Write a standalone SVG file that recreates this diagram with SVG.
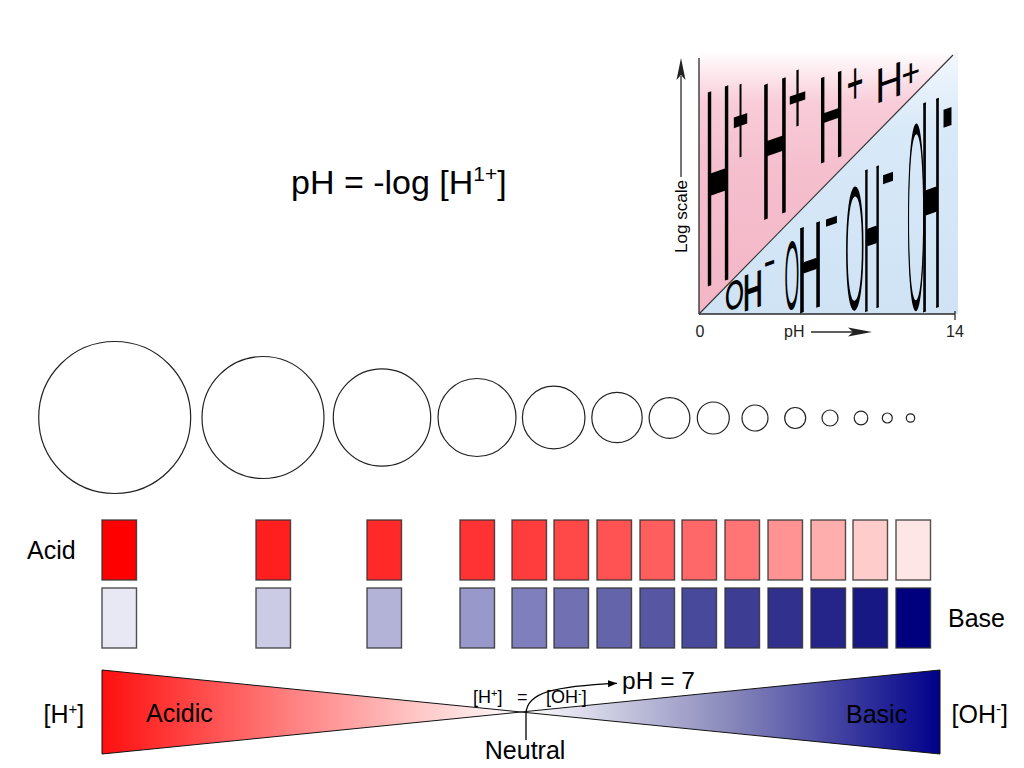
<svg xmlns="http://www.w3.org/2000/svg" width="1024" height="768" viewBox="0 0 1024 768">
<defs>
<style>
text{font-family:"Liberation Sans",Arial,"Helvetica",sans-serif;fill:#000}
.lbl{font-size:25px}
.c{fill:#fff;stroke:#222;stroke-width:1.2}
.sw{stroke:#333;stroke-width:1.4;stroke-opacity:.85}
.g{font-size:100px}
.gb{font-size:100px;stroke:#000;stroke-width:1.2;vector-effect:non-scaling-stroke}
.go{font-family:Lato,Roboto,sans-serif;font-weight:100;font-size:100px;stroke:#000;stroke-width:6;vector-effect:non-scaling-stroke}
.gm{font-size:100px;stroke:#000;stroke-width:4;vector-effect:non-scaling-stroke}
.ax{stroke:#2a2a2a;stroke-width:1.3;fill:none}
.fl{font-size:16px;fill:#222}
.tri{stroke:#111;stroke-width:1}
</style>
<linearGradient id="gRed" gradientUnits="userSpaceOnUse" x1="102" y1="0" x2="521" y2="0">
<stop offset="0" stop-color="#ff0f0f"/>
<stop offset="0.45" stop-color="#ff8080"/>
<stop offset="1" stop-color="#ffffff"/>
</linearGradient>
<linearGradient id="gBlue" gradientUnits="userSpaceOnUse" x1="521" y1="0" x2="940" y2="0">
<stop offset="0" stop-color="#ffffff"/>
<stop offset="0.5" stop-color="#8888bb"/>
<stop offset="1" stop-color="#00008a"/>
</linearGradient>
<linearGradient id="gPink" x1="0" y1="0" x2="0" y2="1">
<stop offset="0" stop-color="#ffffff"/>
<stop offset="0.2" stop-color="#f8ccd8"/>
<stop offset="0.45" stop-color="#f5bfce"/>
<stop offset="1" stop-color="#f3b6c7"/>
</linearGradient>
<linearGradient id="gSky" x1="0" y1="0" x2="0" y2="1">
<stop offset="0" stop-color="#f2f7fd"/>
<stop offset="0.3" stop-color="#d8e9f8"/>
<stop offset="1" stop-color="#cfe3f5"/>
</linearGradient>
<marker id="ah" viewBox="0 0 10 10" refX="10" refY="5" markerWidth="9" markerHeight="9" markerUnits="userSpaceOnUse" orient="auto">
<path d="M0,1 L10,5 L0,9 z" fill="#000"/>
</marker>
</defs>
<rect width="1024" height="768" fill="#fff"/>

<g id="formula">
<text x="291" y="194" font-size="34">pH = -log [H<tspan font-size="21" dy="-13">1+</tspan><tspan dy="13">]</tspan></text>
</g>

<g id="ph-figure">
<polygon points="699,50 958,50 699,314" fill="url(#gPink)"/>
<polygon points="699,314 956,52 958,52 958,314" fill="url(#gSky)"/>
<line class="ax" x1="699" y1="58" x2="699" y2="314"/>
<line class="ax" x1="699" y1="314" x2="955" y2="314"/>
<line class="ax" x1="955" y1="311" x2="955" y2="320"/>
<line x1="699" y1="314" x2="953" y2="55" stroke="#333" stroke-width="1.1"/>
<g id="h-ions">
<text class="g" transform="matrix(0.3665,-0.1283,0,2.821,704.8,287.6)">H</text>
<text class="g" transform="matrix(0.2754,-0.0964,0,1.4925,732.5,173.1)">+</text>
<text class="g" transform="matrix(0.3861,-0.1351,0,1.962,760.9,220.9)">H</text>
<text class="g" transform="matrix(0.3178,-0.1112,0,1.1514,788.2,139.6)">+</text>
<text class="g" transform="matrix(0.3648,-0.1277,0,1.243,818.0,164.6)">H</text>
<text class="g" transform="matrix(0.286,-0.1001,0,0.6183,846.7,107.1)">+</text>
<text class="g" transform="matrix(0.3861,-0.1351,0,0.4888,875.3,103.9)">H</text>
<text class="g" transform="matrix(0.3178,-0.1112,0,0.4051,901.5,90.0)">+</text>
</g>
<g id="oh-ions">
<text class="go" style="stroke-width:3" transform="matrix(0.228,-0.08,0,0.355,725.4,310.5)">O</text>
<text class="gb" transform="matrix(0.2726,-0.0954,0,0.5028,743.0,311.4)">H</text>
<text class="g" transform="matrix(0.3673,-0.1286,0,0.4943,763.4,278.5)">-</text>
<text class="go" style="stroke-width:4.5" transform="matrix(0.1821,-0.0637,0,0.877,784.7,308.7)">O</text>
<text class="gb" transform="matrix(0.3472,-0.1215,0,1.215,797.5,313.4)">H</text>
<text class="g" transform="matrix(0.449,-0.1571,0,0.9195,824.0,248.2)">-</text>
<text class="go" transform="matrix(0.249,-0.0872,0,1.62,845.1,308.8)">O</text>
<text class="gb" transform="matrix(0.2431,-0.0851,0,2.039,863.2,312.1)">H</text>
<text class="g" transform="matrix(0.4082,-0.1429,0,1.149,881.2,211.1)">-</text>
<text class="go" transform="matrix(0.239,-0.0836,0,2.508,906.8,308.5)">O</text>
<text class="gb" transform="matrix(0.2778,-0.0972,0,3.017,921.0,312.5)">H</text>
<text class="gm" transform="matrix(0.286,-0.1,0,1.6,942.7,161.5)">-</text>
</g>
<text transform="translate(687,253) rotate(-90)" font-size="16.5" textLength="73" lengthAdjust="spacingAndGlyphs" fill="#222">Log scale</text>
<line class="ax" x1="681" y1="177" x2="681" y2="76"/>
<polygon points="681,58 676.5,80 681,75 685.5,80" fill="#222"/>
<text class="fl" x="700" y="337" text-anchor="middle">0</text>
<text class="fl" x="955" y="337" text-anchor="middle">14</text>
<text class="fl" x="784" y="337">pH</text>
<line class="ax" x1="811" y1="332" x2="862" y2="332"/>
<polygon points="872,332 848,327.5 853,332 848,336.5" fill="#222"/>
</g>

<g id="circles">
<circle class="c" cx="114.7" cy="417.5" r="76"/>
<circle class="c" cx="263" cy="417.5" r="61"/>
<circle class="c" cx="382" cy="417.5" r="48.7"/>
<circle class="c" cx="477" cy="417.5" r="39"/>
<circle class="c" cx="553.7" cy="417.5" r="31.3"/>
<circle class="c" cx="617" cy="417.5" r="25.2"/>
<circle class="c" cx="669.5" cy="418" r="20.4"/>
<circle class="c" cx="713.3" cy="418" r="16"/>
<circle class="c" cx="755" cy="418" r="13"/>
<circle class="c" cx="795.2" cy="418" r="10.5"/>
<circle class="c" cx="830" cy="418" r="8"/>
<circle class="c" cx="861" cy="418" r="6.8"/>
<circle class="c" cx="887.3" cy="418" r="5"/>
<circle class="c" cx="910.5" cy="418" r="4.2"/>
</g>

<g id="acid-row">
<text class="lbl" x="27" y="559">Acid</text>
<rect class="sw" x="102" y="520" width="34.5" height="60" fill="#ff0000"/>
<rect class="sw" x="256" y="520" width="34.5" height="60" fill="#ff1f1f"/>
<rect class="sw" x="367" y="520" width="34.5" height="60" fill="#ff2929"/>
<rect class="sw" x="460" y="520" width="34.5" height="60" fill="#ff3333"/>
<rect class="sw" x="512" y="520" width="34.5" height="60" fill="#ff3d3d"/>
<rect class="sw" x="554" y="520" width="34.5" height="60" fill="#ff4848"/>
<rect class="sw" x="597" y="520" width="34.5" height="60" fill="#ff5252"/>
<rect class="sw" x="640" y="520" width="34.5" height="60" fill="#ff5e5e"/>
<rect class="sw" x="682" y="520" width="34.5" height="60" fill="#ff6868"/>
<rect class="sw" x="725" y="520" width="34.5" height="60" fill="#ff7575"/>
<rect class="sw" x="768" y="520" width="34.5" height="60" fill="#ff9292"/>
<rect class="sw" x="811" y="520" width="34.5" height="60" fill="#ffaeae"/>
<rect class="sw" x="853" y="520" width="34.5" height="60" fill="#ffcccc"/>
<rect class="sw" x="896" y="520" width="34.5" height="60" fill="#ffe6e6"/>
</g>

<g id="base-row">
<text class="lbl" x="948" y="627">Base</text>
<rect class="sw" x="102" y="588" width="34.5" height="60" fill="#e8e8f4"/>
<rect class="sw" x="256" y="588" width="34.5" height="60" fill="#cbcbe5"/>
<rect class="sw" x="367" y="588" width="34.5" height="60" fill="#b3b3d8"/>
<rect class="sw" x="460" y="588" width="34.5" height="60" fill="#9898cb"/>
<rect class="sw" x="512" y="588" width="34.5" height="60" fill="#7f7fbd"/>
<rect class="sw" x="554" y="588" width="34.5" height="60" fill="#7070b3"/>
<rect class="sw" x="597" y="588" width="34.5" height="60" fill="#6464ab"/>
<rect class="sw" x="640" y="588" width="34.5" height="60" fill="#5656a2"/>
<rect class="sw" x="682" y="588" width="34.5" height="60" fill="#49499b"/>
<rect class="sw" x="725" y="588" width="34.5" height="60" fill="#3d3d94"/>
<rect class="sw" x="768" y="588" width="34.5" height="60" fill="#31318d"/>
<rect class="sw" x="811" y="588" width="34.5" height="60" fill="#252589"/>
<rect class="sw" x="853" y="588" width="34.5" height="60" fill="#181884"/>
<rect class="sw" x="896" y="588" width="34.5" height="60" fill="#00007f"/>
</g>

<g id="acidic-wedge">
<polygon class="tri" points="102,670 102,754 521,712" fill="url(#gRed)"/>
<text class="lbl" x="146" y="722">Acidic</text>
<text class="lbl" x="43.5" y="723">[H<tspan font-size="15" dy="-9">+</tspan><tspan dy="9">]</tspan></text>
</g>
<g id="basic-wedge">
<polygon class="tri" points="940,670 940,754 521,712" fill="url(#gBlue)"/>
<text class="lbl" x="846" y="723">Basic</text>
<text class="lbl" x="951.5" y="723">[OH<tspan font-size="15" dy="-9">-</tspan><tspan dy="9">]</tspan></text>
</g>
<g id="neutral">
<text x="473" y="703" font-size="18">[H<tspan font-size="11" dy="-6">+</tspan><tspan dy="6">]</tspan></text>
<text x="517" y="703" font-size="18">=</text>
<text x="546" y="703" font-size="18">[OH<tspan font-size="11" dy="-6">-</tspan><tspan dy="6">]</tspan></text>
<text class="lbl" x="484.8" y="759">Neutral</text>
<text x="622" y="689" font-size="24.5">pH = 7</text>
</g>

<g id="connectors">
<path d="M526,740 L526,714 C526,692 556,686 617,683.3" fill="none" stroke="#000" stroke-width="1.3" marker-end="url(#ah)"/>
</g>
</svg>
